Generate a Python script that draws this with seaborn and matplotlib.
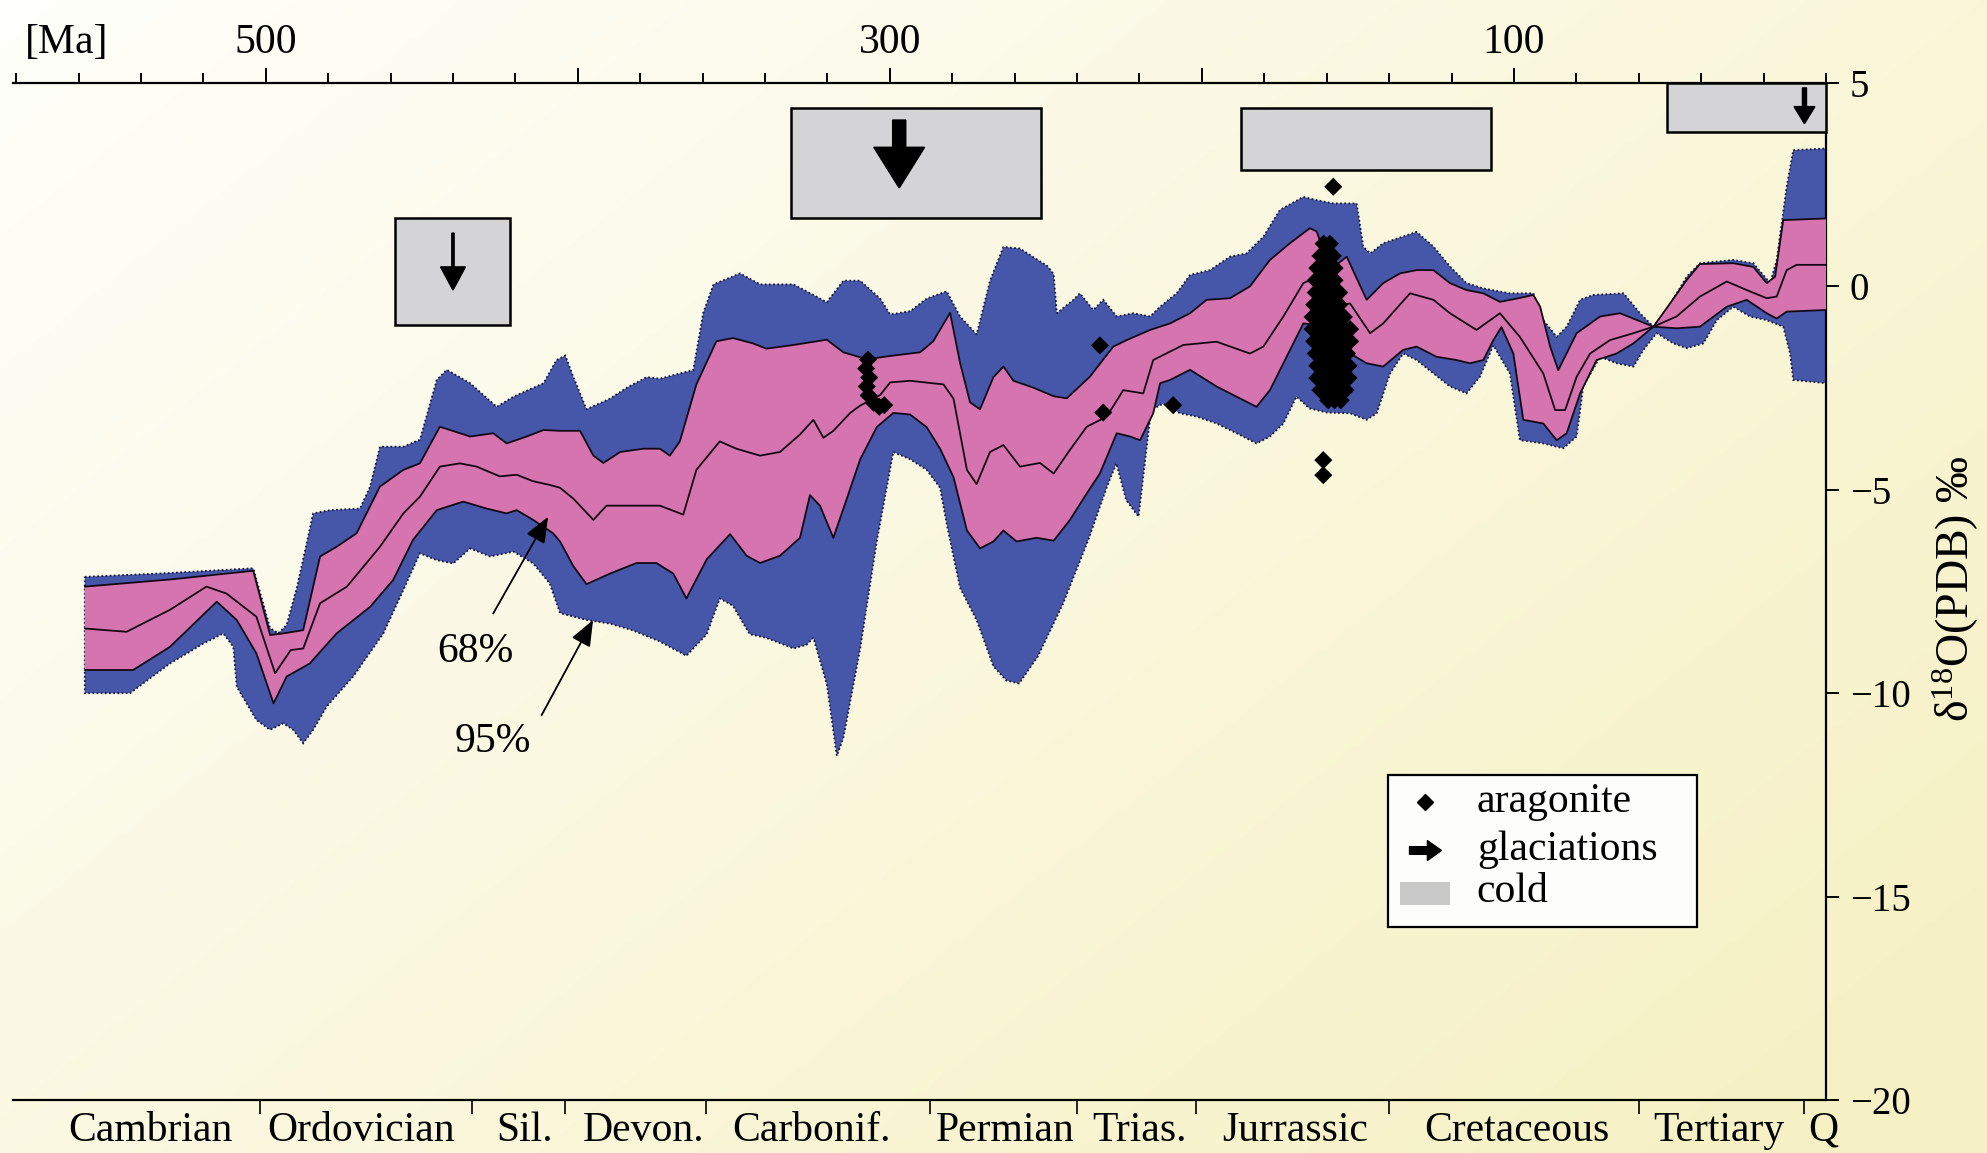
import numpy as np
import matplotlib
matplotlib.use("Agg")
import matplotlib.pyplot as plt
import seaborn as sns
from matplotlib.patches import Rectangle
from matplotlib.path import Path
from matplotlib.ticker import MultipleLocator

# ---------------- data (age in Ma, delta18O in permil PDB) ----------------
upper95 = [(558, -7.14), (532, -7.05), (504, -6.93), (498.6, -8.40), (496, -8.53), (493.3, -8.32),
           (490, -7.40), (484.8, -5.58), (479.4, -5.50), (469.8, -5.46), (466.6, -4.93), (463.4, -3.94),
           (455.9, -3.94), (450.6, -3.77), (445.2, -2.30), (442.0, -2.05), (434.5, -2.38), (426.0, -2.96),
           (420.6, -2.71), (411.0, -2.38), (406.8, -1.81), (404.0, -1.70), (401.4, -2.23), (397.2, -3.02),
           (389.7, -2.76), (384.3, -2.49), (377.9, -2.23), (373.7, -2.27), (367.3, -2.14), (363.0, -2.06),
           (359.8, -0.65), (356.5, 0.05), (348.0, 0.32), (341.6, 0.05), (330.9, 0.05), (324.5, -0.21),
           (320.2, -0.39), (314.9, 0.14), (309.5, 0.14), (303.1, -0.30), (299.9, -0.69), (293.5, -0.61),
           (288.2, -0.30), (281.8, -0.12), (277.5, -0.74), (272.2, -1.18), (267.9, 0.14), (263.6, 0.97),
           (258.3, 0.93), (253.0, 0.67), (249.5, 0.50), (247.5, 0.30), (246.5, -0.66), (241.2, -0.33),
           (239.1, -0.17), (234.8, -0.58), (231.6, -0.33), (227.3, -0.74), (222.0, -0.66), (216.6, -0.74),
           (213.4, -0.50), (208.1, -0.17), (203.8, 0.28), (197.4, 0.40), (191.0, 0.73), (185.7, 0.81),
           (180.3, 1.22), (175.0, 1.88), (167.5, 2.20), (163.2, 2.12), (157.9, 2.04), (150.4, 2.04),
           (148.3, 0.98), (146.1, 0.81), (141.9, 1.06), (131.2, 1.34), (125.8, 0.98), (120.5, 0.49),
           (115.2, 0.08), (109.8, -0.05), (101.3, -0.17), (93.8, -0.17), (90.6, -0.83), (86.3, -1.24),
           (83.1, -0.99), (78.8, -0.33), (74.6, -0.21), (64.9, -0.17), (59.6, -0.66), (55.3, -0.99),
           (51.1, -0.58), (44.6, 0.24), (40.4, 0.57), (29.7, 0.65), (23.3, 0.57), (17.9, 0.08),
           (15.8, 0.65), (12.6, 2.45), (10.5, 3.35), (0.0, 3.39)]

upper68 = [(558, -7.38), (530, -7.20), (504, -6.99), (498.6, -8.57), (494.4, -8.53), (488, -8.45),
           (482.6, -6.64), (477.3, -6.40), (470.9, -6.07), (463.4, -4.92), (455.9, -4.51), (450.6, -4.35),
           (444.2, -3.45), (434.5, -3.69), (427.1, -3.61), (422.8, -3.86), (416.4, -3.69), (411, -3.53),
           (405.7, -3.55), (399.3, -3.55), (395, -4.16), (391.8, -4.34), (386.4, -4.07), (379, -3.99),
           (373.7, -3.99), (370.5, -4.16), (367.3, -3.81), (362, -2.41), (355.6, -1.35), (350.3, -1.27),
           (343.9, -1.40), (339.6, -1.53), (330.9, -1.44), (320.2, -1.31), (314.9, -1.62), (307.4, -1.79),
           (298.9, -1.70), (290.3, -1.62), (286.1, -1.35), (280.7, -0.65), (277.5, -1.88), (274.3, -2.85),
           (271.1, -3.02), (266.8, -2.23), (263.6, -1.97), (260.4, -2.32), (254.0, -2.49), (247.5, -2.70),
           (243.3, -2.75), (235.9, -2.22), (228.4, -1.48), (224.1, -1.32), (216.6, -1.07), (210.2, -0.91),
           (203.8, -0.66), (198.5, -0.33), (191.0, -0.29), (184.6, 0.0), (178.2, 0.65), (171.8, 1.06),
           (165.4, 1.43), (163.2, 1.35), (159.0, 0.40), (153.6, 0.73), (147.2, -0.33), (141.9, 0.08),
           (136.5, 0.32), (131.2, 0.40), (125.8, 0.40), (120.5, 0.08), (115.2, -0.09), (109.8, -0.17),
           (104.5, -0.38), (99.1, -0.30), (93.8, -0.21), (91.6, -0.50), (88.4, -1.48), (85.8, -2.06),
           (79.9, -1.15), (72.4, -0.74), (66.0, -0.66), (55.3, -0.99), (44.6, 0.16), (40.4, 0.55),
           (29.7, 0.57), (23.3, 0.48), (19.0, 0.08), (16.3, 0.24), (13.7, 1.63), (0.0, 1.67)]

median = [(558, -8.41), (544.6, -8.49), (530.7, -7.95), (519, -7.38), (512.6, -7.55), (503, -8.12),
          (497, -9.51), (492, -8.94), (488, -8.90), (482.6, -7.79), (474, -7.38), (463.4, -6.40),
          (455.9, -5.58), (450.6, -5.17), (444.2, -4.43), (437.8, -4.35), (432.4, -4.43), (425, -4.67),
          (419.6, -4.63), (414.3, -4.79), (409, -4.88), (405.7, -4.95), (401.4, -5.22), (395, -5.74),
          (390.8, -5.39), (373.7, -5.39), (366.2, -5.61), (362, -4.51), (354.5, -3.81), (349.2, -3.99),
          (341.6, -4.16), (335.2, -4.07), (328.8, -3.64), (324.5, -3.28), (321.3, -3.72), (318.1, -3.55),
          (312.7, -3.11), (309.5, -2.93), (303.1, -2.67), (299.9, -2.36), (293.5, -2.32), (282.8, -2.41),
          (279.6, -2.76), (275.3, -4.51), (272.2, -4.86), (267.9, -4.07), (263.6, -3.90), (258.3, -4.43),
          (251.9, -4.34), (247.5, -4.60), (242.3, -4.02), (236.9, -3.45), (230.5, -3.20), (225.2, -2.55),
          (218.8, -2.63), (215.6, -1.81), (206.0, -1.44), (195.3, -1.36), (184.6, -1.65), (180.3, -1.48),
          (173.9, -0.74), (167.5, 0.08), (164.0, 0.20), (158.0, -0.50), (152.5, -0.42), (146.1, -1.15),
          (141.9, -0.91), (133.3, -0.17), (125.8, -0.33), (120.5, -0.66), (112.0, -1.07), (104.5, -0.66),
          (98.1, -1.24), (90.6, -2.14), (86.8, -3.04), (83.6, -3.04), (79.9, -2.22), (75.6, -1.65),
          (69.2, -1.32), (61.7, -1.15), (55.3, -0.99), (47.9, -0.74), (40.4, -0.25), (31.8, 0.12),
          (25.4, -0.09), (19.0, -0.29), (15.8, -0.25), (12.6, 0.40), (9.4, 0.53), (0.0, 0.53)]

lower68 = [(558, -9.43), (542.5, -9.43), (530.7, -8.86), (515.7, -7.75), (509.3, -8.20), (503, -9.02),
           (497.5, -10.25), (493.3, -9.59), (485.9, -9.27), (477.3, -8.53), (466.6, -7.88), (459.2, -7.22),
           (452.8, -6.23), (445.2, -5.50), (436.7, -5.29), (429.3, -5.46), (422.8, -5.58), (419.6, -5.50),
           (414.3, -5.74), (407.9, -6.07), (405.7, -6.27), (401.4, -6.88), (397.2, -7.32), (389.7, -7.06),
           (381.2, -6.80), (374.8, -6.80), (369.4, -7.06), (365.2, -7.67), (358.7, -6.71), (351.2, -6.09),
           (345.9, -6.62), (341.6, -6.80), (335.2, -6.62), (328.8, -6.18), (325.6, -5.13), (322.4, -5.39),
           (318.1, -6.18), (313.8, -5.22), (309.5, -4.25), (304.2, -3.46), (298.9, -3.11), (293.5, -3.15),
           (288.2, -3.46), (283.9, -3.99), (279.6, -4.69), (275.3, -6.00), (271.1, -6.44), (266.8, -6.27),
           (263.6, -6.00), (259.4, -6.27), (253.0, -6.18), (247.5, -6.25), (242.3, -5.74), (236.9, -5.09),
           (232.7, -4.60), (227.3, -3.61), (223.0, -3.69), (219.8, -3.78), (215.6, -3.12), (213.4, -2.38),
           (210.2, -2.30), (203.8, -2.05), (195.3, -2.46), (188.9, -2.71), (182.5, -2.96), (178.2, -2.55),
           (173.9, -1.89), (167.5, -0.91), (163.0, -0.95), (158.0, -1.50), (152.5, -1.65), (147.2, -1.89),
           (141.9, -1.97), (135.5, -1.56), (131.2, -1.48), (124.8, -1.73), (118.4, -1.81), (114.1, -1.89),
           (109.8, -1.81), (106.6, -1.32), (104.0, -1.00), (100.2, -1.65), (97.0, -3.28), (90.6, -3.37),
           (86.3, -3.78), (83.1, -3.61), (78.8, -2.63), (73.5, -1.81), (67.1, -1.65), (61.7, -1.40),
           (55.3, -0.99), (47.9, -1.03), (40.4, -0.99), (31.8, -0.50), (25.4, -0.33), (19.0, -0.66),
           (15.8, -0.79), (12.6, -0.62), (0.0, -0.58)]

lower95 = [(558, -10.0), (543.5, -10.0), (530.7, -9.27), (520, -8.78), (513.6, -8.53), (510.4, -8.86),
           (509.3, -9.84), (503, -10.66), (498.6, -10.90), (494.4, -10.74), (491.2, -10.90), (488, -11.23),
           (484.8, -10.90), (480.5, -10.33), (472, -9.59), (462.3, -8.53), (455.9, -7.46), (450.6, -6.56),
           (445.2, -6.73), (439.9, -6.81), (434.5, -6.44), (428.1, -6.64), (420.6, -6.52), (414.3, -6.81),
           (409, -7.30), (405.7, -8.03), (397.2, -8.20), (389.7, -8.29), (382.2, -8.46), (373.7, -8.73),
           (365.2, -9.08), (358.7, -8.55), (354.5, -7.67), (350.3, -7.85), (344.9, -8.55), (339.6, -8.64),
           (330.9, -8.90), (326.7, -8.81), (324.5, -8.64), (320.2, -9.78), (317.0, -11.54), (314.9, -11.10),
           (309.5, -8.90), (304.2, -6.27), (298.9, -4.07), (293.5, -4.25), (288.2, -4.51), (283.9, -4.95),
           (281.8, -5.83), (277.5, -7.41), (272.2, -8.20), (266.8, -9.34), (262.6, -9.69), (258.6, -9.76),
           (252.6, -9.10), (244.5, -7.80), (236.5, -6.25), (230.4, -4.92), (227.4, -4.35), (224.3, -5.25),
           (220.3, -5.66), (216.3, -3.04), (212.4, -2.88), (207.0, -3.12), (201.7, -3.20), (195.3, -3.37),
           (188.9, -3.61), (182.5, -3.86), (178.2, -3.69), (173.9, -3.37), (169.7, -2.71), (165.5, -3.00),
           (160.0, -3.10), (152.5, -3.12), (147.2, -3.28), (144.0, -3.12), (139.7, -2.14), (135.5, -1.65),
           (131.2, -1.81), (125.8, -2.14), (120.5, -2.46), (115.2, -2.63), (110.9, -2.22), (106.6, -1.45),
           (101.3, -2.14), (98.1, -3.78), (90.6, -3.86), (84.2, -3.98), (79.9, -3.69), (77.8, -2.46),
           (72.4, -1.73), (67.1, -1.89), (61.7, -1.97), (58.5, -1.56), (54.3, -1.15), (48.9, -1.40),
           (44.6, -1.52), (39.3, -1.40), (35.0, -0.83), (29.7, -0.50), (24.4, -0.74), (19.0, -0.83),
           (13.7, -0.99), (11.5, -1.65), (10.5, -2.30), (0.0, -2.38)]

aragonite_single = [(157.9, 2.45), (232.7, -1.45), (231.6, -3.10), (209.2, -2.92), (161.1, -4.27), (161.1, -4.64)]
aragonite_carb = [(307.0, -1.80), (307.6, -2.02), (306.6, -2.24), (307.4, -2.46), (306.8, -2.68),
                  (305.2, -2.86), (303.4, -2.96), (301.8, -2.92)]
aragonite_jur = [(161, 1.05), (159, 1.05),
                 (162, 0.75), (160, 0.75), (158, 0.75),
                 (163, 0.45), (161, 0.45), (159, 0.45), (157.5, 0.45),
                 (163.5, 0.15), (161.5, 0.15), (159.5, 0.15), (157.5, 0.15),
                 (163.5, -0.15), (161.5, -0.15), (159.5, -0.15), (157.5, -0.15), (156, -0.15),
                 (164, -0.45), (162, -0.45), (160, -0.45), (158, -0.45), (156, -0.45),
                 (164.5, -0.75), (162.5, -0.75), (160.5, -0.75), (158.5, -0.75), (156.5, -0.75), (154.5, -0.75),
                 (164.5, -1.05), (162.5, -1.05), (160.5, -1.05), (158.5, -1.05), (156.5, -1.05), (154.5, -1.05), (152.5, -1.05),
                 (164, -1.35), (162, -1.35), (160, -1.35), (158, -1.35), (156, -1.35), (154, -1.35), (152.5, -1.35),
                 (163.5, -1.65), (161.5, -1.65), (159.5, -1.65), (157.5, -1.65), (155.5, -1.65), (153.5, -1.65),
                 (163, -1.95), (161, -1.95), (159, -1.95), (157, -1.95), (155, -1.95), (153, -1.95),
                 (163, -2.25), (161, -2.25), (159, -2.25), (157, -2.25), (155, -2.25), (153, -2.25),
                 (162, -2.55), (160, -2.55), (158, -2.55), (156, -2.55), (154, -2.55),
                 (159.5, -2.80), (157.5, -2.80), (155.5, -2.80)]

# cold intervals (grey boxes) and glaciations (arrows)
cold_old = [458.5, 331.7, 187.6, 50.9]
cold_young = [421.7, 251.6, 107.4, 0.0]
cold_top = [1.68, 4.38, 4.38, 5.0]
cold_bottom = [-0.95, 1.67, 2.86, 3.80]

glaciation_age = [440.0, 297.0, 6.9]
glaciation_from = [1.31, 4.09, 4.88]
glaciation_to = [-0.09, 2.42, 4.00]

# geological time scale
period_bounds = [502, 434, 404, 359, 287, 240, 202, 140, 60, 7]
period_names = ["Cambrian", "Ordovician", "Sil.", "Devon.", "Carbonif.", "Permian",
                "Trias.", "Jurrassic", "Cretaceous", "Tertiary", "Q"]
period_label_age = [537, 469.5, 417, 379, 325, 263, 220, 170, 99, 34.5, 1]

age_ticks = [500, 400, 300, 200, 100]
age_tick_labels = ["500", "", "300", "", "100"]
d18o_ticks = [-20, -15, -10, -5, 0, 5]

# ---------------- style ----------------
sns.set_style("white")
plt.rcParams.update({
    "font.family": ["Liberation Serif", "DejaVu Serif"],
    "mathtext.fontset": "custom",
    "mathtext.rm": "Liberation Serif",
    "mathtext.it": "Liberation Serif:italic",
    "text.color": "black",
    "axes.labelcolor": "black",
    "axes.edgecolor": "black",
    "xtick.color": "black",
    "ytick.color": "black",
    "axes.unicode_minus": True,
})

BLUE = "#4657AA"
PINK = "#D674B0"
GREY = "#D4D4D6"
FS = 30

fig = plt.figure(figsize=(19.87, 11.53), dpi=100)

# soft white-to-cream background wash
bg = fig.add_axes([0, 0, 1, 1], zorder=-10)
gy, gx = np.mgrid[0:1:300j, 0:1:500j]
t = np.clip(0.62 * gx + 0.45 * gy, 0, 1)[..., None]
c0 = np.array([255, 255, 251]) / 255.0
c1 = np.array([246, 241, 196]) / 255.0
bg.imshow(c0 + (c1 - c0) * t, extent=[0, 1, 0, 1], aspect="auto", origin="upper")
bg.axis("off")

ax = fig.add_axes([0.00654, 0.04597, 0.91243, 0.88204])
ax.set_facecolor("none")


def split(pairs):
    a = np.array(pairs, dtype=float)
    return a[:, 0], a[:, 1]


u95x, u95y = split(upper95)
l95x, l95y = split(lower95)
u68x, u68y = split(upper68)
l68x, l68y = split(lower68)
mx, my = split(median)

# 95 % envelope
ax.fill(np.r_[u95x, l95x[::-1]], np.r_[u95y, l95y[::-1]], facecolor=BLUE,
        edgecolor="#15173d", linewidth=1.3, linestyle=(0, (1.0, 1.3)), zorder=2)
# 68 % envelope
ax.fill(np.r_[u68x, l68x[::-1]], np.r_[u68y, l68y[::-1]], facecolor=PINK,
        edgecolor="none", zorder=3)

for xs, ys in [(u68x, u68y), (mx, my), (l68x, l68y)]:
    sns.lineplot(x=xs, y=ys, sort=False, estimator=None, color="#140814",
                 linewidth=1.3, ax=ax, zorder=4)

ar = aragonite_single + aragonite_carb + aragonite_jur
arx, ary = split(ar)
sns.scatterplot(x=arx, y=ary, marker="D", s=85, color="black", edgecolor="none",
                linewidth=0, ax=ax, zorder=5)

# cold intervals
for old, young, top, bot in zip(cold_old, cold_young, cold_top, cold_bottom):
    ax.add_patch(Rectangle((young, bot), old - young, top - bot, facecolor=GREY,
                           edgecolor="black", linewidth=1.8, zorder=6, clip_on=False))

# glaciation arrows (shaft width, head width in Ma; head length in permil)
arrow_style = [(0.75, 8.0, 0.57), (4.2, 16.3, 1.0), (1.3, 6.7, 0.42)]
for age, y0, y1, (w, hw, hl) in zip(glaciation_age, glaciation_from, glaciation_to, arrow_style):
    ax.arrow(age, y0, 0, y1 - y0, width=w, head_width=hw, head_length=hl,
             length_includes_head=True, color="black", zorder=7, clip_on=False)

# percentile annotations
ax.text(432.9, -8.98, "68%", ha="center", va="center", fontsize=FS, zorder=8)
ax.text(427.2, -11.19, "95%", ha="center", va="center", fontsize=FS, zorder=8)
for tail, head in [((427.1, -8.04), (409.5, -5.66)), ((411.6, -10.54), (395.1, -8.20))]:
    ax.annotate("", xy=head, xytext=tail, zorder=8,
                arrowprops=dict(arrowstyle="-|>,head_length=0.8,head_width=0.32",
                                mutation_scale=20, color="black", lw=1.3,
                                shrinkA=0, shrinkB=0))

# legend
ax.add_patch(Rectangle((41.3, -15.75), 99.1, 3.74, facecolor="#FDFDFB",
                       edgecolor="black", linewidth=1.6, zorder=8))
ax.plot([128.5], [-12.67], marker="D", ms=8, color="black", ls="none", zorder=9)
arrow_marker = Path([(-1, 0.24), (0.12, 0.24), (0.12, 0.62), (1, 0), (0.12, -0.62),
                     (0.12, -0.24), (-1, -0.24), (-1, 0.24)],
                    [Path.MOVETO] + [Path.LINETO] * 6 + [Path.CLOSEPOLY])
ax.plot([128.5], [-13.85], marker=arrow_marker, ms=23, color="black", ls="none", zorder=9)
ax.add_patch(Rectangle((120.5, -15.21), 16.0, 0.58, facecolor="#C9C9C9",
                       edgecolor="none", zorder=9))
for lab, yv in [("aragonite", -12.67), ("glaciations", -13.85), ("cold", -14.88)]:
    ax.text(111.9, yv, lab, ha="left", va="center", fontsize=30, zorder=9)

# ---------------- axes ----------------
ax.set_xlim(581, 0)
ax.set_ylim(-20, 5)

ax.xaxis.set_ticks_position("top")
ax.set_xticks(age_ticks)
ax.set_xticklabels(age_tick_labels)
ax.xaxis.set_minor_locator(MultipleLocator(20))
ax.tick_params(axis="x", which="major", direction="out", length=11, width=1.4,
               pad=4, labelsize=FS, top=True, bottom=False)
ax.tick_params(axis="x", which="minor", direction="out", length=7, width=1.4,
               top=True, bottom=False)
ax.text(563.7, 6.0, "[Ma]", ha="center", va="center", fontsize=FS, clip_on=False)

ax.yaxis.tick_right()
ax.set_yticks(d18o_ticks)
ax.tick_params(axis="y", which="major", direction="out", length=9, width=1.4,
               pad=8, labelsize=28, left=False, right=True)
ax.yaxis.set_label_position("right")
ax.set_ylabel("δ$^{18}$O(PDB) ‰", fontsize=33, rotation=90)
ax.yaxis.set_label_coords(1.058, 0.503)

for side in ["left", "bottom"]:
    ax.spines[side].set_visible(False)
for side in ["top", "right"]:
    ax.spines[side].set_linewidth(1.6)

# geological periods along the bottom
sec = ax.secondary_xaxis("bottom")
sec.set_xticks(period_bounds)
sec.set_xticks(period_label_age, labels=period_names, minor=True)
sec.tick_params(axis="x", which="major", direction="out", length=10, width=1.2,
                labelbottom=False)
sec.tick_params(axis="x", which="minor", length=0, pad=8, labelsize=FS)
sec.spines["bottom"].set_linewidth(1.6)

fig.savefig("out.png", dpi=100)
